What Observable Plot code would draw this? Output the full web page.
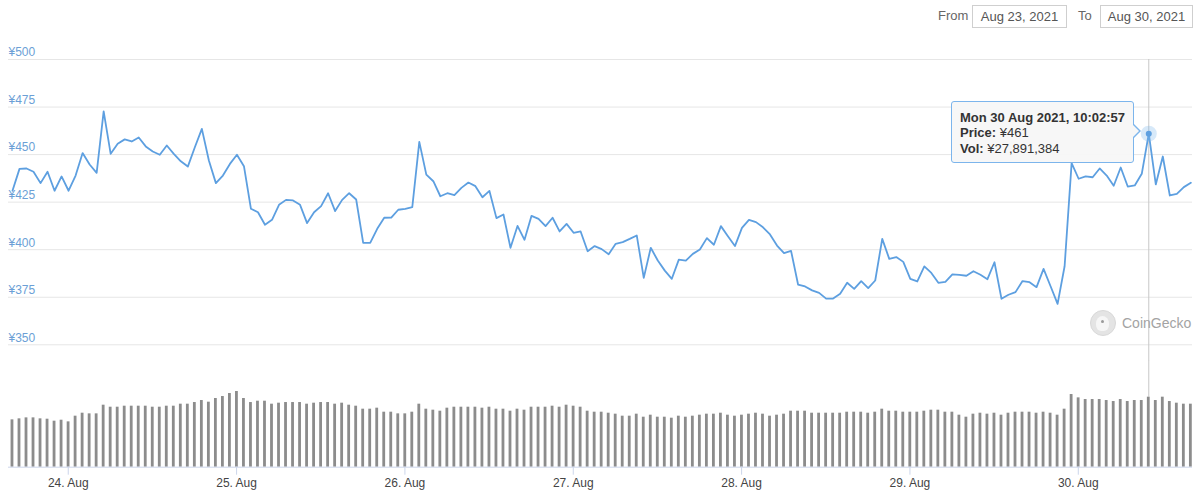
<!DOCTYPE html>
<html>
<head>
<meta charset="utf-8">
<script src="https://cdn.jsdelivr.net/npm/d3@7"></script>
<script src="https://cdn.jsdelivr.net/npm/@observablehq/plot@0.6"></script>
<style>
  html, body { margin: 0; padding: 0; background: #fff; }
  body { width: 1200px; height: 492px; overflow: hidden; font-family: "Liberation Sans", Arial, sans-serif; }
  #wrap { position: relative; width: 1200px; height: 492px; }
  .abs { position: absolute; }
  .lbl { font-size: 13px; color: #666; line-height: 22px; }
  .box { border: 1px solid #cfcfcf; box-sizing: border-box; height: 23px; font-size: 13px; color: #555; line-height: 21px; text-align: center; }
  #price, #vol { position: absolute; left: 0; }
  #price { top: 0; }
  #vol { top: 360px; }
  #tip { left: 951px; top: 101px; width: 183px; height: 62px; box-sizing: border-box; background: rgba(247,247,247,0.96);
         border: 1px solid #7cb5ec; border-radius: 3px; padding: 8px 0 0 8px; font-size: 13px; line-height: 15.3px; color: #333; white-space: nowrap; }
  #tip b { font-weight: bold; }
  .tri-o { left: 1133px; top: 123px; width: 0; height: 0; border-top: 8px solid transparent; border-bottom: 8px solid transparent; border-left: 8px solid #7cb5ec; }
  .tri-i { left: 1132px; top: 124px; width: 0; height: 0; border-top: 7px solid transparent; border-bottom: 7px solid transparent; border-left: 7px solid #f7f7f7; }
  #logo { left: 1090px; top: 310px; width: 26px; height: 26px; border-radius: 50%; background: #e4e4e4; border: 1px solid #d8d8d8; box-sizing: border-box; }
  #logo .head { position:absolute; left: 5px; top: 5px; width: 13px; height: 15px; border-radius: 50% 50% 40% 40%; background: #f6f6f6; }
  #logo .eye { position:absolute; left: 10px; top: 9px; width: 3px; height: 3px; border-radius: 50%; background: #9a9a9a; }
  #brand { left: 1122px; top: 313px; font-size: 14px; color: #a3a3a3; line-height: 20px; }
</style>
</head>
<body>
<div id="wrap">
  <div class="abs lbl" style="left:938px; top:5px;">From</div>
  <div class="abs box" style="left:972px; top:5px; width:95px;">Aug 23, 2021</div>
  <div class="abs lbl" style="left:1078px; top:5px;">To</div>
  <div class="abs box" style="left:1100px; top:5px; width:93px;">Aug 30, 2021</div>
  <div id="price"></div>
  <div id="vol"></div>
  <div id="logo" class="abs"><div class="head"></div><div class="eye"></div></div>
  <div id="brand" class="abs">CoinGecko</div>
  <div class="abs tri-o"></div>
  <div id="tip" class="abs"><b>Mon 30 Aug 2021, 10:02:57</b><br><b>Price:</b> ¥461<br><b>Vol:</b> ¥27,891,384</div>
  <div class="abs tri-i"></div>
</div>
<script>
// ---- data (hourly samples, first at 23 Aug 2021 16:03 UTC) ----
const firstTime = new Date(Date.UTC(2021, 7, 23, 16, 3));
const domainStart = new Date(Date.UTC(2021, 7, 23, 15, 29));
const domainEnd = new Date(Date.UTC(2021, 7, 30, 16, 17));

const prices = [
  431, 442.5, 442.7, 441, 435, 441, 431, 438.5, 431, 439,
  450.8, 444.8, 440.4, 472.7, 450.4, 455.7, 458, 456.9, 459, 454.3,
  451.6, 449.9, 454.8, 450.4, 446.5, 443.7, 453.9, 463.5, 446.9, 435,
  439, 445.1, 449.9, 443.9, 421.5, 419.7, 413.1, 415.7, 423.6, 426.2,
  425.9, 423.6, 414, 419.7, 422.9, 429.7, 420.3, 426.2, 429.7, 426.4,
  403.6, 403.6, 411, 416.8, 416.9, 421, 421.5, 422.4, 456.7, 439.5,
  436, 428.1, 429.7, 428.7, 432.5, 435.3, 433.4, 427.6, 430.9, 416.6,
  418.5, 401, 412.5, 405.2, 417.8, 416.2, 412.4, 416.8, 409.6, 413.6,
  408.9, 409.6, 399.2, 401.9, 400.3, 397.6, 403.1, 404, 405.7, 407.5,
  385.2, 401, 394.3, 389, 384.7, 394.8, 394.3, 397.8, 400.1, 406.1,
  402.6, 412.4, 407.1, 401.9, 411.5, 415.7, 414.5, 411.8, 408, 402.2,
  398.2, 399.4, 381.7, 380.7, 378.6, 377.3, 374.3, 374.3, 376.8, 382.6,
  379.4, 383.5, 379.8, 383.8, 405.7, 395.2, 396.1, 393.6, 384.7, 383.3,
  391.2, 387.8, 382.6, 383.1, 387, 386.8, 386.3, 388.7, 386.8, 384.5,
  393.4, 374.2, 376.3, 377.7, 383.5, 382.9, 380.3, 389.9, 380.8, 371.5,
  391.3, 445.5, 437.3, 438.5, 438.1, 442.7, 439, 433.6, 443.2, 433.2,
  433.8, 439.9, 461, 434.3, 449, 428.5, 429.4, 432.9, 435.2
];

// volume in millions of yen
const volumes = [
  18.86, 19.26, 19.65, 19.65, 19.26, 19.12, 18.33, 18.72, 18.06, 20.32,
  21.51, 21.25, 21.25, 24.70, 23.90, 23.90, 24.30, 24.30, 24.30, 24.30,
  23.90, 23.90, 24.30, 24.30, 25.10, 25.10, 25.76, 26.56, 25.90, 27.36,
  28.15, 29.35, 30.15, 27.36, 25.76, 26.29, 26.29, 25.10, 25.50, 25.76,
  25.76, 25.76, 25.10, 25.50, 25.76, 25.76, 25.10, 25.50, 24.70, 24.30,
  23.11, 23.11, 23.51, 21.91, 21.91, 21.25, 21.25, 21.91, 25.10, 23.11,
  22.71, 22.31, 23.51, 23.90, 23.90, 23.90, 23.90, 23.51, 23.90, 23.11,
  23.11, 22.31, 23.11, 22.71, 23.90, 23.90, 23.90, 24.30, 23.90, 24.70,
  24.30, 23.90, 22.31, 21.91, 21.91, 21.51, 21.12, 20.32, 20.32, 21.12,
  19.92, 20.72, 19.92, 19.92, 19.52, 20.32, 19.92, 20.32, 20.72, 21.12,
  21.12, 21.51, 20.72, 20.32, 20.72, 21.12, 21.51, 21.12, 20.32, 20.72,
  21.12, 22.31, 22.31, 22.31, 21.51, 21.51, 21.51, 21.51, 21.51, 21.91,
  21.91, 21.91, 21.51, 21.91, 23.11, 22.31, 22.31, 21.91, 21.91, 21.91,
  22.31, 22.71, 22.71, 21.91, 21.91, 20.72, 19.92, 21.12, 21.51, 21.12,
  21.51, 20.72, 21.51, 21.91, 21.91, 21.91, 21.51, 21.91, 21.51, 20.72,
  23.11, 28.95, 27.62, 26.96, 26.96, 26.96, 26.56, 26.16, 26.96, 26.16,
  26.56, 26.56, 27.89, 26.56, 27.89, 26.16, 25.50, 25.10, 25.10
];

const priceTicks = [350, 375, 400, 425, 450, 475, 500];
const dayTicks = [24, 25, 26, 27, 28, 29, 30].map(d => new Date(Date.UTC(2021, 7, d)));
const hoverIndex = 162;

// ---- build table: one sample per hour from firstTime ----
const series = prices.map((price, i) => ({ t: d3.utcHour.offset(firstTime, i), price, vol: volumes[i] }));
const hovered = series[hoverIndex];

const lineColor = "#5d9fe0";
const font = '"Liberation Sans", Arial, sans-serif';

const pricePlot = Plot.plot({
  width: 1200, height: 360,
  marginLeft: 8, marginRight: 8, marginTop: 59, marginBottom: 15.7,
  style: { fontFamily: font, background: "transparent", overflow: "visible" },
  x: { type: "utc", domain: [domainStart, domainEnd], axis: null },
  y: { domain: [350, 500], axis: null },
  marks: [
    Plot.ruleY(priceTicks, { stroke: "#e6e6e6", strokeWidth: 1 }),
    Plot.text(priceTicks, { frameAnchor: "left", y: d => d, text: d => "¥" + d, textAnchor: "start", dy: -7, fill: "#6c9fd6", fontSize: 12 }),
    Plot.ruleX([hovered], { x: "t", stroke: "#c8c8c8", strokeWidth: 1, insetBottom: -16 }),
    Plot.lineY(series, { x: "t", y: "price", stroke: lineColor, strokeWidth: 1.8, strokeLinejoin: "round" }),
    Plot.dot([hovered], { x: "t", y: "price", r: 8, fill: "#7cb5ec", fillOpacity: 0.3, stroke: "none" }),
    Plot.dot([hovered], { x: "t", y: "price", r: 3, fill: lineColor, stroke: "none" })
  ]
});
document.getElementById("price").appendChild(pricePlot);

const half = 12 * 60 * 1000;
const volPlot = Plot.plot({
  width: 1200, height: 132,
  marginLeft: 8, marginRight: 8, marginTop: 0, marginBottom: 25.3,
  style: { fontFamily: font, background: "transparent", overflow: "visible" },
  x: { type: "utc", domain: [domainStart, domainEnd] },
  y: { domain: [0, 42.5], axis: null },
  marks: [
    Plot.ruleX([hovered], { x: "t", y1: "vol", y2: 42.5, stroke: "#c8c8c8", strokeWidth: 1 }),
    Plot.rectY(series, { x1: d => new Date(+d.t - half), x2: d => new Date(+d.t + half), y: "vol", fill: "#8c8c8c" }),
    Plot.ruleY([0], { stroke: "#ccd6eb" }),
    Plot.axisX({ ticks: dayTicks, tickFormat: d3.utcFormat("%-d. %b"), tickSize: 8, tickPadding: 3, stroke: "#ccd6eb", fill: "#444", fontSize: 12, label: null })
  ]
});
document.getElementById("vol").appendChild(volPlot);
</script>
</body>
</html>
